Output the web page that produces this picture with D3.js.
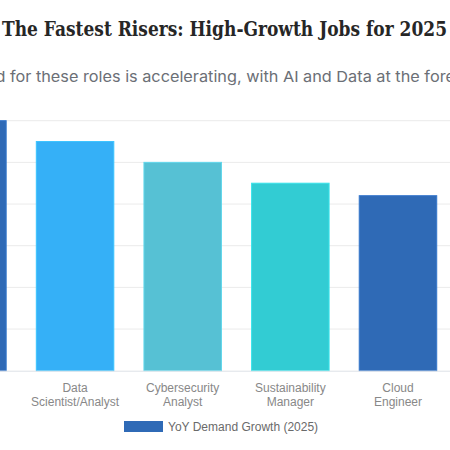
<!DOCTYPE html>
<html>
<head>
<meta charset="utf-8">
<script src="https://cdn.jsdelivr.net/npm/d3@7"></script>
<style>
  html, body { margin: 0; padding: 0; background: #fff; }
  svg { display: block; }
</style>
</head>
<body>
<div id="chart"></div>
<script>
// data
const categories = ["AI/ML Engineer", "Data Scientist/Analyst", "Cybersecurity Analyst", "Sustainability Manager", "Cloud Engineer"];
const growth = [60, 55, 50, 45, 42];
const barColors = ["#2f6ab6", "#35b0f7", "#56c1d4", "#32ccd3", "#2f6ab6"];
const yTicks = [0, 10, 20, 30, 40, 50, 60];
const seriesName = "YoY Demand Growth (2025)";

const width = 450, height = 450;

const svg = d3.select("#chart")
    .append("svg")
    .attr("width", width)
    .attr("height", height);

svg.append("rect")
    .attr("width", width)
    .attr("height", height)
    .attr("fill", "#fff");

// title + subtitle (wider than the view, centred like the original page)
svg.append("text")
    .attr("x", 224.5)
    .attr("y", 36)
    .attr("text-anchor", "middle")
    .attr("textLength", 445)
    .attr("lengthAdjust", "spacingAndGlyphs")
    .style("font-family", "'DejaVu Serif', serif")
    .style("font-weight", "bold")
    .style("font-size", "21px")
    .style("fill", "#262626")
    .text("The Fastest Risers: High-Growth Jobs for 2025");

svg.append("text")
    .attr("x", 218.7)
    .attr("y", 82)
    .attr("text-anchor", "middle")
    .attr("textLength", 555)
    .attr("lengthAdjust", "spacingAndGlyphs")
    .style("font-family", "Inter, sans-serif")
    .style("font-size", "15px")
    .style("fill", "#6b6f76")
    .text("Demand for these roles is accelerating, with AI and Data at the forefront.");

// scales
const x = d3.scaleBand()
    .domain(categories)
    .range([-86.4, 451.8])
    .paddingInner(0.28)
    .paddingOuter(0.14);

const y = d3.scaleLinear()
    .domain([0, 60])
    .range([370.7, 120.7]);

// grid
svg.append("g")
    .selectAll("line")
    .data(yTicks.slice(1))
    .join("line")
    .attr("x1", -86.4)
    .attr("x2", width)
    .attr("y1", d => y(d))
    .attr("y2", d => y(d))
    .attr("stroke", "#ebebeb")
    .attr("stroke-width", 1);

// y axis (labels sit left of the visible area)
const yAxis = svg.append("g")
    .attr("transform", "translate(-86.4,0)")
    .call(d3.axisLeft(y).tickValues(yTicks).tickFormat(d => d + "%").tickSize(0));
yAxis.select(".domain").remove();
yAxis.selectAll("text").style("fill", "#777").style("font-size", "12px");

// bars
svg.append("g")
    .selectAll("rect")
    .data(growth)
    .join("rect")
    .attr("x", (d, i) => x(categories[i]))
    .attr("y", d => y(d))
    .attr("width", x.bandwidth())
    .attr("height", d => y(0) - y(d))
    .attr("fill", (d, i) => barColors[i])
    .attr("stroke", (d, i) => d3.color(barColors[i]).brighter(0.3))
    .attr("stroke-width", 1);

// baseline
svg.append("line")
    .attr("x1", -86.4)
    .attr("x2", width)
    .attr("y1", y(0) + 0.5)
    .attr("y2", y(0) + 0.5)
    .attr("stroke", "#dde1e6")
    .attr("stroke-width", 1);

// x labels, wrapped on first space
const xLabels = svg.append("g")
    .selectAll("text")
    .data(categories)
    .join("text")
    .attr("text-anchor", "middle")
    .style("font-family", "'Liberation Sans', Arial, sans-serif")
    .style("font-size", "12px")
    .style("fill", "#888");

xLabels.each(function (d) {
    const k = d.indexOf(" ");
    const lines = [d.slice(0, k), d.slice(k + 1)];
    const cx = x(d) + x.bandwidth() / 2;
    d3.select(this).selectAll("tspan")
        .data(lines)
        .join("tspan")
        .attr("x", cx)
        .attr("y", (l, j) => 392 + j * 14)
        .text(l => l);
});

// legend
svg.append("rect")
    .attr("x", 124)
    .attr("y", 421)
    .attr("width", 39)
    .attr("height", 11)
    .attr("fill", barColors[0]);

svg.append("text")
    .attr("x", 168)
    .attr("y", 431)
    .style("font-family", "'Liberation Sans', Arial, sans-serif")
    .style("font-size", "12px")
    .style("fill", "#6a6a6a")
    .text(seriesName);
</script>
</body>
</html>
